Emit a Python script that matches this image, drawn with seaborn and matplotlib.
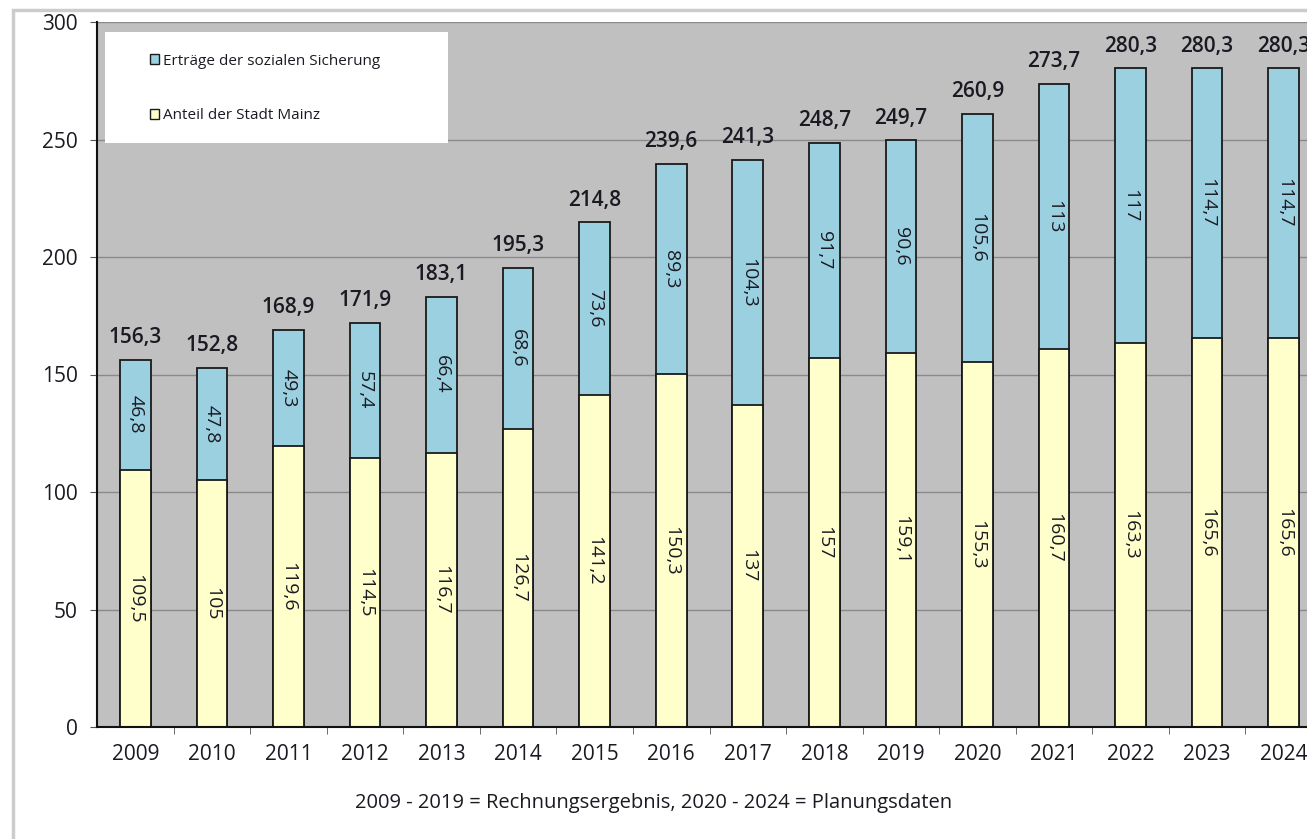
import matplotlib
matplotlib.use("Agg")
import matplotlib.pyplot as plt
from matplotlib.patches import Patch, Rectangle
import seaborn as sns
import pandas as pd

# data
years = ["2009", "2010", "2011", "2012", "2013", "2014", "2015", "2016",
         "2017", "2018", "2019", "2020", "2021", "2022", "2023", "2024"]
anteil = [109.5, 105, 119.6, 114.5, 116.7, 126.7, 141.2, 150.3,
          137, 157, 159.1, 155.3, 160.7, 163.3, 165.6, 165.6]
ertraege = [46.8, 47.8, 49.3, 57.4, 66.4, 68.6, 73.6, 89.3,
            104.3, 91.7, 90.6, 105.6, 113, 117, 114.7, 114.7]
y_ticks = [0, 50, 100, 150, 200, 250, 300]

label_ertraege = "Erträge der sozialen Sicherung"
label_anteil = "Anteil der Stadt Mainz"
caption = "2009 - 2019 = Rechnungsergebnis, 2020 - 2024 = Planungsdaten"

df = pd.DataFrame({"jahr": years, "anteil": anteil, "ertraege": ertraege})
df["gesamt"] = (df["anteil"] + df["ertraege"]).round(1)

blue = "#9BD0E1"
yellow = "#FFFFCC"
bg = "#C0C0C0"
txt = "#1a1a22"


def fmt(v):
    s = f"{v:.1f}".replace(".", ",")
    return s[:-2] if s.endswith(",0") else s


plt.rcParams["font.family"] = ["Open Sans", "DejaVu Sans"]

fig = plt.figure(figsize=(13.07, 8.39), dpi=100)
ax = fig.add_axes([97 / 1307, 112 / 839, 1225 / 1307, 705 / 839])
ax.set_facecolor(bg)

sns.barplot(data=df, x="jahr", y="gesamt", color=blue, saturation=1,
            width=0.4, edgecolor="#1a1a1a", linewidth=1.3, ax=ax)
sns.barplot(data=df, x="jahr", y="anteil", color=yellow, saturation=1,
            width=0.4, edgecolor="#1a1a1a", linewidth=1.3, ax=ax)

# segment labels + totals
for i, row in df.iterrows():
    ax.text(i, row["anteil"] / 2, fmt(row["anteil"]), rotation=270,
            ha="center", va="center", fontsize=14, color=txt)
    ax.text(i, row["anteil"] + row["ertraege"] / 2, fmt(row["ertraege"]),
            rotation=270, ha="center", va="center", fontsize=14, color=txt)
    ax.annotate(fmt(row["gesamt"]), (i, row["gesamt"]), xytext=(0, 12),
                textcoords="offset points", ha="center", va="baseline",
                fontsize=15, fontweight="semibold", color=txt)

ax.set_ylim(0, 300)
ax.set_xlim(-0.5, len(years) - 0.5)
ax.set_yticks(y_ticks)
ax.yaxis.grid(True, color="#8a8a8a", linewidth=1)
ax.set_axisbelow(True)
ax.set_xlabel("")
ax.set_ylabel("")

for s in ["top", "right"]:
    ax.spines[s].set_visible(False)
ax.spines["left"].set_color("#111111")
ax.spines["bottom"].set_color("#111111")
ax.spines["left"].set_linewidth(1.5)
ax.spines["bottom"].set_linewidth(1.5)

ax.tick_params(axis="y", length=5, pad=9, labelsize=15, color="#555555",
               labelcolor=txt)
ax.tick_params(axis="x", which="major", length=0, pad=12, labelsize=15,
               labelcolor=txt)
ax.set_xticks([i + 0.5 for i in range(len(years) - 1)], minor=True)
ax.tick_params(axis="x", which="minor", length=5, color="#555555")

# legend box
ax.add_patch(Rectangle((0.0065, 0.828), 0.28, 0.158, transform=ax.transAxes,
                       facecolor="white", edgecolor="none", zorder=4))
handles = [Patch(facecolor=blue, edgecolor="#1a1a1a", label=label_ertraege),
           Patch(facecolor=yellow, edgecolor="#1a1a1a", label=label_anteil)]
leg = ax.legend(handles=handles, loc="upper left", bbox_to_anchor=(0.037, 0.966),
                frameon=False, fontsize=11, handlelength=0.6, handleheight=0.6,
                handletextpad=0.25, labelspacing=2.6, borderpad=0,
                labelcolor=txt)
leg.set_zorder(5)

fig.text(0.5, 1 - 803 / 839, caption, ha="center", va="center", fontsize=14.5,
         color=txt)

# outer frame of the chart object
fig.add_artist(Rectangle((13 / 1307, -0.1), 1.2, 1.1 - 10 / 839,
                         transform=fig.transFigure, facecolor="none",
                         edgecolor="#cccccc", linewidth=2.5))

fig.savefig("out.png", dpi=100)
